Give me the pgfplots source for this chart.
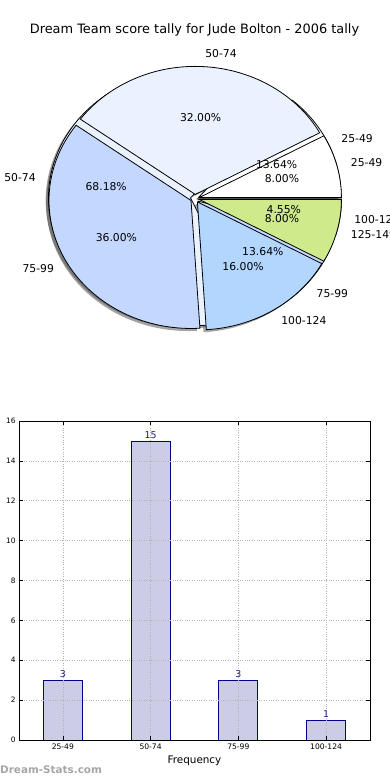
\documentclass[border=0pt]{standalone}
\usepackage{pgfplots}
\usepackage{pgfplotstable}
\pgfplotsset{compat=1.18}
\usepackage{fontspec}
\setmainfont{DejaVu Sans}
\pgfkeys{/pgf/number format/assume math mode=true}

\definecolor{cw}{HTML}{FFFFFF}
\definecolor{ca}{HTML}{EAF1FF}
\definecolor{cb}{HTML}{C4D8FF}
\definecolor{cc}{HTML}{B3D6FF}
\definecolor{cd}{HTML}{CFEA8A}
\definecolor{barfill}{HTML}{CCCCE6}
\definecolor{barline}{HTML}{00008B}
\definecolor{barlab}{HTML}{1A1A8C}

% Pie A (percent of 25)
\pgfplotstableread{
lab     n  col
25-49   2  cw
50-74   8  ca
75-99   9  cb
100-124 4  cc
125-149 2  cd
}\pieA
% Pie B (counts, same as bar chart)
\pgfplotstableread{
lab     n  col
25-49   3  cw
50-74   15 ca
75-99   3  cb
100-124 1  cc
}\pieB
\pgfplotstableread{
x n
0 3
1 15
2 3
3 1
}\bars

\def\RX{142pt}
\def\RY{128pt}
\def\explode{0.032}

\newcommand\pieloop[2]{%
  \pgfplotstablegetrowsof{#1}\pgfmathtruncatemacro\nlast{\pgfplotsretval-1}%
  \def\tot{0}%
  \pgfplotsforeachungrouped \i in {0,...,\nlast}{%
    \pgfplotstablegetelem{\i}{n}\of#1\pgfmathsetmacro\tot{\tot+\pgfplotsretval}}%
  \def\cum{0}%
  \pgfplotsforeachungrouped \i in {0,...,\nlast}{%
    \pgfplotstablegetelem{\i}{n}\of#1\let\cnt\pgfplotsretval
    \pgfplotstablegetelem{\i}{lab}\of#1\let\lab\pgfplotsretval
    \pgfplotstablegetelem{\i}{col}\of#1\let\col\pgfplotsretval
    \pgfmathsetmacro\angA{360*\cum/\tot}%
    \pgfmathsetmacro\cum{\cum+\cnt}%
    \pgfmathsetmacro\angB{360*\cum/\tot}%
    \pgfmathsetmacro\angM{(\angA+\angB)/2}%
    \pgfmathsetmacro\pc{100*\cnt/\tot}%
    \pgfmathsetmacro\ecx{\explode*cos(\angM)}%
    \pgfmathsetmacro\ecy{\explode*sin(\angM)}%
    \pgfmathsetmacro\scx{\ecx-0.02}%
    \pgfmathsetmacro\scy{\ecy-0.02}%
    \pgfmathsetmacro\lx{(\explode+1.1)*cos(\angM)}%
    \pgfmathsetmacro\ly{(\explode+1.1)*sin(\angM)}%
    \pgfmathsetmacro\px{(\explode+0.6)*cos(\angM)}%
    \pgfmathsetmacro\py{(\explode+0.6)*sin(\angM)}%
    \pgfmathtruncatemacro\side{cos(\angM)>0}%
    \ifnum\side=1 \def\anc{west}\else\def\anc{east}\fi
    \ifcase#2
      \edef\cmd{\noexpand\fill[black!70,opacity=0.5] (axis cs:\scx,\scy) -- ++(\angA:\RX\space and \RY) arc[start angle=\angA, end angle=\angB, x radius=\RX, y radius=\RY] -- cycle;}%
    \or
      \edef\cmd{\noexpand\filldraw[fill=\col,draw=black,line width=0.8pt,line join=miter] (axis cs:\ecx,\ecy) -- ++(\angA:\RX\space and \RY) arc[start angle=\angA, end angle=\angB, x radius=\RX, y radius=\RY] -- cycle;}%
    \or
      \edef\cmd{\noexpand\node[anchor=\anc,inner sep=0pt,font=\noexpand\piefont] at (axis cs:\lx,\ly) {\lab};
        \noexpand\node[anchor=center,inner sep=0pt,font=\noexpand\piefont] at (axis cs:\px,\py) {\noexpand\pgfmathprintnumber[fixed,fixed zerofill,precision=2]{\pc}\noexpand\%};}%
    \fi
    \cmd
  }%
}
\newcommand\piefont{\fontsize{10.8}{12}\selectfont}

\begin{document}
\begin{tikzpicture}
\useasboundingbox (0pt,0pt) rectangle (390pt,780pt);
\node[font=\fontsize{12.9}{14}\selectfont] at (194.5pt,750pt) {Dream Team score tally for Jude Bolton - 2006 tally};

\begin{axis}[at={(195pt,581.5pt)}, anchor=center, scale only axis,
  width=284pt, height=256pt, xmin=-1, xmax=1, ymin=-1, ymax=1,
  hide axis, clip=false]
  \pieloop{\pieB}{0}
  \pieloop{\pieA}{0}
  \pieloop{\pieB}{1}
  \pieloop{\pieA}{1}
  \pieloop{\pieB}{2}
  \pieloop{\pieA}{2}
\end{axis}

\begin{axis}[at={(19pt,40pt)}, anchor=south west, scale only axis,
  width=351pt, height=319pt,
  xmin=-0.5, xmax=3.5, ymin=0, ymax=16,
  xtick={0,1,2,3}, xticklabels={25-49,50-74,75-99,100-124},
  ytick={0,2,...,16},
  tick align=inside, major tick length=4pt,
  tick style={black, line width=0.6pt},
  xticklabel style={font=\fontsize{7.6}{8}\selectfont},
  yticklabel style={font=\fontsize{7.4}{8}\selectfont},
  grid=major, grid style={dotted, line width=0.7pt, gray!60},
  axis line style={line width=0.9pt},
  axis on top,
  xlabel={Frequency}, xlabel style={font=\fontsize{10.4}{12}\selectfont},
  ylabel={Score Interval},
  ylabel style={at={(axis description cs:-0.0456,0.5)}, anchor=south, font=\fontsize{10.4}{12}\selectfont},
  ]
  \addplot[ybar, bar width=39pt, fill=barfill, draw=barline, line width=0.8pt,
    nodes near coords,
    nodes near coords style={text=barlab, font=\fontsize{9.4}{10}\selectfont, inner sep=2pt}]
    table[x=x, y=n] {\bars};
\end{axis}

\node[anchor=west, inner sep=0pt, font=\bfseries\fontsize{10.4}{12}\selectfont, text=gray!70] at (0pt,10pt) {Dream-Stats.com};
\end{tikzpicture}
\end{document}
